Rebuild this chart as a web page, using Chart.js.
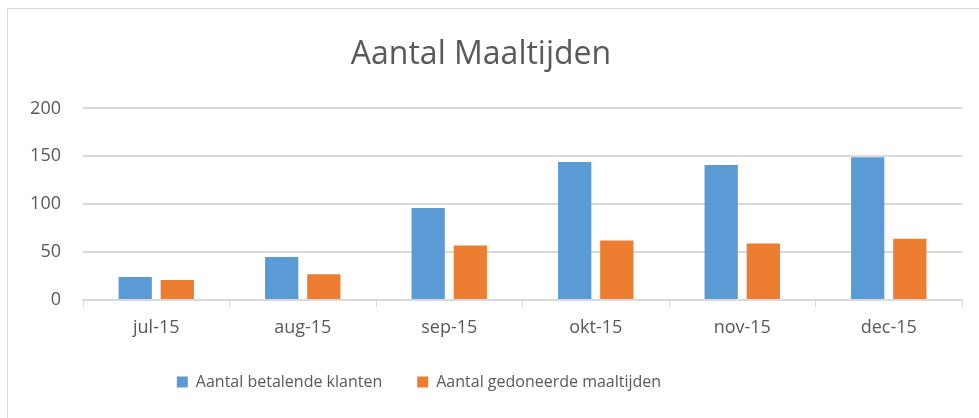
<!DOCTYPE html>
<html>
<head>
<meta charset="utf-8">
<script src="https://cdn.jsdelivr.net/npm/chart.js@4"></script>
<style>
    html, body { margin: 0; padding: 0; background: #fff; overflow: hidden; }
    #wrap { position: relative; width: 979px; height: 418px; overflow: hidden; }
    #frame { position: absolute; left: 7px; top: 8px; right: -5px; bottom: -5px; border: 1px solid #d9d9d9; }
    canvas { position: absolute; left: 0; top: 0; }
</style>
</head>
<body>
<div id="wrap">
    <div id="frame"></div>
    <canvas id="chart" width="979" height="418"></canvas>
</div>
<script>
// Chart data
const months = ['jul-15', 'aug-15', 'sep-15', 'okt-15', 'nov-15', 'dec-15'];
const betalendeKlanten = [24, 45, 96, 144, 141, 149];
const gedoneerdeMaaltijden = [21, 27, 57, 62, 59, 64];
const yTicks = [0, 50, 100, 150, 200];

const textColor = '#595959';
const gridColor = '#d9d9d9';
const fontFamily = "'Open Sans', 'Liberation Sans', sans-serif";

// Excel puts the legend a bit left of centre
const legendShift = {
    id: 'legendShift',
    afterLayout(chart) {
        chart.legend.left -= 62;
        chart.legend.right -= 62;
    }
};

const ctx = document.getElementById('chart').getContext('2d');
const chart = new Chart(ctx, {
    type: 'bar',
    data: {
        labels: months,
        datasets: [{
            label: 'Aantal betalende klanten',
            data: betalendeKlanten,
            backgroundColor: '#5b9bd5',
            categoryPercentage: 0.575,
            barPercentage: 0.79
        }, {
            label: 'Aantal gedoneerde maaltijden',
            data: gedoneerdeMaaltijden,
            backgroundColor: '#ed7d31',
            categoryPercentage: 0.575,
            barPercentage: 0.79
        }]
    },
    plugins: [legendShift],
    options: {
        responsive: false,
        animation: false,
        layout: {
            padding: { left: 0, right: 17, top: 36, bottom: 18 }
        },
        plugins: {
            title: {
                display: true,
                text: 'Aantal Maaltijden',
                color: textColor,
                font: { family: fontFamily, size: 32, weight: 'normal' },
                padding: { top: 0, bottom: 34 }
            },
            legend: {
                position: 'bottom',
                labels: {
                    color: textColor,
                    font: { family: fontFamily, size: 16 },
                    boxWidth: 11,
                    boxHeight: 11,
                    padding: 35
                }
            },
            tooltip: { enabled: false }
        },
        scales: {
            x: {
                afterFit: function (axis) {
                    axis.height = 39;
                },
                grid: {
                    display: true,
                    offset: true,
                    drawOnChartArea: false,
                    drawTicks: true,
                    tickLength: 7,
                    color: gridColor
                },
                border: { color: gridColor, width: 2 },
                ticks: {
                    color: textColor,
                    font: { family: fontFamily, size: 18 },
                    padding: 10
                }
            },
            y: {
                min: 0,
                max: 200,
                afterBuildTicks: function (axis) {
                    axis.ticks = yTicks.map(v => ({ value: v }));
                },
                afterFit: function (axis) {
                    axis.width = 83;
                },
                grid: {
                    color: gridColor,
                    lineWidth: 2,
                    drawTicks: false
                },
                border: { display: false },
                ticks: {
                    color: textColor,
                    font: { family: fontFamily, size: 18 },
                    padding: 22
                }
            }
        }
    }
});
</script>
</body>
</html>
